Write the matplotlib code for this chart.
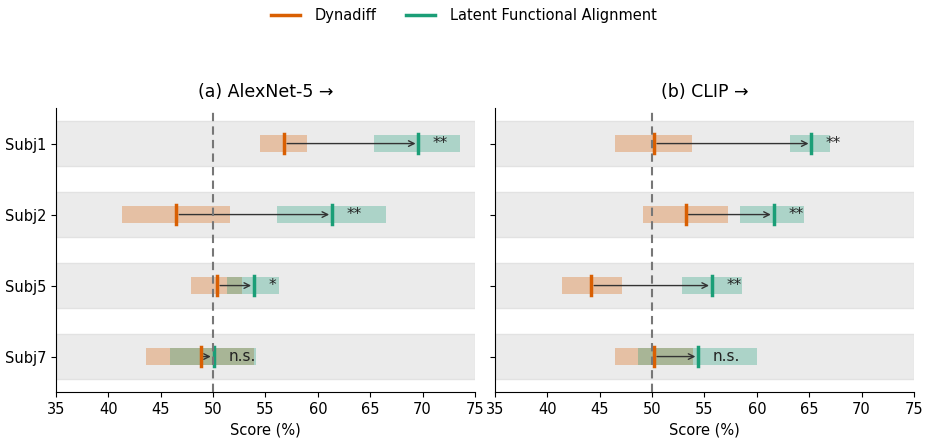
import matplotlib.pyplot as plt
from matplotlib.lines import Line2D

subjects = ["Subj1", "Subj2", "Subj5", "Subj7"]
panels = ["(a) AlexNet-5 →", "(b) CLIP →"]

# Dynadiff: mean, ci low, ci high
dyn_mean = [[56.8, 46.5, 50.4, 48.8], [50.2, 53.2, 44.2, 50.2]]
dyn_lo = [[54.5, 41.3, 47.9, 43.6], [46.5, 49.1, 41.4, 46.5]]
dyn_hi = [[59.0, 51.6, 52.8, 53.9], [53.8, 57.2, 47.1, 53.9]]

# Latent Functional Alignment
lfa_mean = [[69.6, 61.35, 53.9, 50.05], [65.2, 61.6, 55.7, 54.4]]
lfa_lo = [[65.4, 56.1, 51.3, 45.9], [63.2, 58.4, 52.9, 48.7]]
lfa_hi = [[73.6, 66.5, 56.3, 54.1], [67.0, 64.5, 58.6, 60.0]]

signif = [["**", "**", "*", "n.s."], ["**", "**", "**", "n.s."]]

c_dyn = "#d95f02"
c_lfa = "#1b9e77"

fig = plt.figure(figsize=(9.28, 4.44), dpi=100)
ax_pos = [[0.0603, 0.117, 0.4515, 0.6396], [0.5334, 0.117, 0.4515, 0.6396]]

for p in range(2):
    ax = fig.add_axes(ax_pos[p])
    for i in range(len(subjects)):
        ax.axhspan(i - 0.32, i + 0.32, facecolor="#ebebeb", edgecolor="#e2e2e2", lw=1, zorder=0)
        ax.barh(i, dyn_hi[p][i] - dyn_lo[p][i], left=dyn_lo[p][i], height=0.23,
                color=c_dyn, alpha=0.3, lw=0, zorder=1)
        ax.barh(i, lfa_hi[p][i] - lfa_lo[p][i], left=lfa_lo[p][i], height=0.23,
                color=c_lfa, alpha=0.3, lw=0, zorder=2)
        ax.annotate("", xy=(lfa_mean[p][i], i), xytext=(dyn_mean[p][i], i),
                    arrowprops=dict(arrowstyle="->", color="#333333", lw=1), zorder=3)
        ax.plot([dyn_mean[p][i]] * 2, [i - 0.13, i + 0.13], color=c_dyn, lw=2.5, zorder=4)
        ax.plot([lfa_mean[p][i]] * 2, [i - 0.13, i + 0.13], color=c_lfa, lw=2.5, zorder=4)
        ax.text(lfa_mean[p][i] + 1.4, i, signif[p][i], ha="left", va="center",
                fontsize=11, color="#222222", zorder=5)
    ax.axvline(50, color="#777777", ls="--", lw=1.5, dashes=(4, 2.5), zorder=6)
    ax.set_xlim(35, 75)
    ax.set_ylim(3.5, -0.5)
    ax.set_xticks(range(35, 80, 5))
    ax.set_yticks(range(len(subjects)))
    if p == 0:
        ax.set_yticklabels(subjects, fontsize=10.5)
    else:
        ax.set_yticklabels([])
    ax.tick_params(axis="x", labelsize=10.5)
    ax.spines["top"].set_visible(False)
    ax.spines["right"].set_visible(False)
    ax.set_xlabel("Score (%)", fontsize=10.5)
    ax.set_title(panels[p], fontsize=12.5, pad=8)

handles = [Line2D([], [], color=c_dyn, lw=2.5), Line2D([], [], color=c_lfa, lw=2.5)]
fig.legend(handles, ["Dynadiff", "Latent Functional Alignment"], loc="upper center",
           ncol=2, frameon=False, bbox_to_anchor=(0.5, 1.012), fontsize=10.5,
           handletextpad=1.0)

fig.savefig("out.png", dpi=100)
